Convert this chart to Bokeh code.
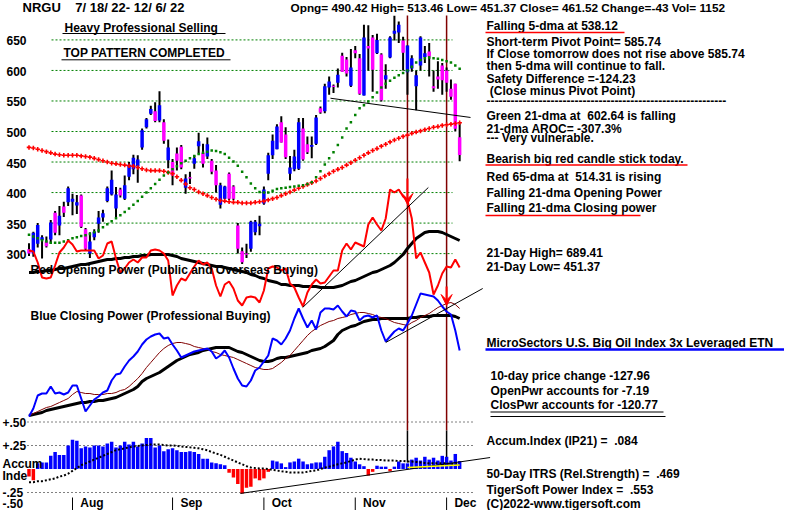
from bokeh.plotting import figure
from bokeh.models import Range1d, Arrow, VeeHead
from bokeh.core.properties import value
from bokeh.embed import file_html
from bokeh.resources import INLINE

# ---------------- data ----------------
opens = [307,300,316,322,320,323,367,346,377,384, 385,379,395,340,300,327,349,359,386,397,
         374,405,390,426,438,443,474,507,529,533, 518,515,453,450,464,475,408,425,447,476,
         465,459,452,436,380,390,431,410,346,304, 300,308,335,345,382,431,461,471,515,495,
         431,438,439,505,479,475,480,538,533,572, 575,580,624,618,575,633,620,559,640,654,
         628,626,585,621,660,662,649,597,603,574, 608,622,631,574,590,608,600,570,578,490.42]
highs = [317,336,350,330,328,355,370,378,385,410, 398,396,397,342,335,340,370,372,410,436,
         409,408,428,450,462,461,505,522,542,548, 566,520,487,455,474,478,430,434,461,498,
         480,490,455,445,416,411,433,412,350,310, 316,354,355,362,410,465,495,512,525,507,
         460,470,522,522,492,492,527,541,578,590, 577,603,629,622,635,640,627,675,674,658,
         660,628,610,656,689.41,680,655,641,625,600, 656,640,645,600,615,612,605,585,578,513.46]
lows = [296,295,310,292,310,316,330,330,360,378, 363,365,342,305,293,322,334,352,384,395,
        360,392,388,420,430,416,470,505,527,515, 515,480,440,412,436,438,398,414,439,464,
        441,455,430,400,374,389,388,388,300,283, 293,303,330,330,380,420,455,471,482,455,
        420,435,437,452,463,456,478,529,530,560, 563,572,598,590,573,620,560,559,600,565,
        627,549,570,620,649,645,600,560,598,535, 600,612,590,565,570,560,565,552,500,451.37]
closes = [300,334,347,327,312,351,334,362,367,407, 390,384,344,308,320,336,359,366,407,421,
          397,395,412,446,457,454,502,520,537,517, 543,485,474,428,452,441,423,423,456,484,
          447,479,434,412,412,410,390,390,308,286, 298,352,352,349,405,461,485,508,482,458,
          441,459,515,454,466,478,523,531,574,582, 573,593,598,595,605,628,562,654,636,601,
          650,551,592,654,665,675,629,641,620,592, 654,628,623,571,585,584,580,557,504.52,461.52]
ma65 = [474,473,471,469,467,465,463,462,461,461, 461,461,460,459,458,456,454,452,450,448,
        447,446,445,444,443,441,439,437,436,436, 436,435,433,431,426,420,414,408,405,401,
        398,395,392,389,387,386,385,384,384,383, 383,383,384,385,386,388,390,392,395,398,
        401,404,407,410,413,416,419,423,427,431, 435,438,441,445,449,453,457,461,465,469,
        472,476,479,483,486,489,492,494,497,499, 501,503,505,507,508,510,511,512,513,514.31]
ma21 = [331,328,325,322,320,318,318,318,320,322, 325,327,329,330,332,335,338,343,348,353,
        358,363,368,374,380,386,393,400,407,414, 421,428,433,438,443,448,452,456,460,463,
        465,467,469,468,466,463,457,451,444,434, 425,415,407,401,400,400,403,406,407,408,
        409,410,411,412,414,417,425,435,446,456, 466,478,490,505,515,527,538,543,549,556,
        564,572,578,583,588,592,596,600,606,613, 617,620,621,620,619,617,615,613,608,602.64]
open_power = [60,59,48,33,32,33,45,58,63,70, 66,59,60,60,60,60,52,55,67,69,
              52,38,42,48,51,48,53,53,60,61, 60,57,50,15,25,32,30,37,44,50,
              46,48,42,25,14,26,29,22,10,5, 13,14,13,8,20,42,44,43,40,42,
              27,23,13,4,18,26,31,27,28,34, 40,40,60,67,61,68,66,64,86,93,
              86,80,92,121,118,121,114,110,92,52, 58,48,38,16,25,37,44,43,51,43]
open_power_ma = [38,38,39,39,40,40,41,42,42,43, 44,45,46,46,47,48,49,50,51,51,
                 52,52,53,53,54,54,55,55,56,56, 56,56,56,55,54,52,51,50,49,48,
                 47,46,45,44,44,43,42,41,40,39, 38,36,35,33,32,30,29,28,26,26,
                 25,25,25,24,24,24,24,23,23,23, 23,24,25,27,29,30,32,34,36,38,
                 39,41,43,45,48,52,56,62,67,72, 75,78,79,79,79,78,76,74,72,70]
close_power = [4,12,25,27,27,34,27,28,26,28, 35,35,22,9,15,21,24,28,30,40,
               46,47,54,60,64,69,76,81,84,86, 87,82,83,76,70,63,65,67,69,70,
               71,72,69,62,65,70,63,52,42,35, 34,40,50,53,59,65,82,80,76,82,
               90,102,112,102,93,100,91,108,112,112, 111,115,109,104,110,109,100,104,105,103,
               105,90,79,84,89,92,90,97,105,116, 127,126,125,124,120,114,109,106,90,70]
close_power_ma_thin = [5,7,9,11,13,14,16,18,20,22, 26,29,28,27,27,26,26,26,27,27,
                       28,30,31,34,38,42,47,53,58,63, 68,72,75,77,78,78,77,76,74,73,
                       72,71,69,68,66,65,64,63,61,59, 57,55,53,52,51,51,52,55,58,62,
                       65,70,75,80,85,89,92,95,97,99, 100,102,103,104,106,107,108,108,107,106,
                       104,103,102,100,98,97,96,95,98,100, 103,105,107,110,113,115,117,118,116,112]
close_power_ma = [5,6,7,8,10,11,12,13,14,15, 16,17,18,18,19,19,20,20,21,22,
                  23,25,27,29,31,34,39,42,44,46, 48,51,54,57,60,62,64,66,67,68,
                  70,71,72,73,73,73,73,71,69,68, 66,64,62,60,59,59,60,62,63,63,
                  64,65,66,67,68,70,71,72,74,77, 80,86,90,92,94,95,97,99,100,101,
                  101,102,102,102,102,102,102,102,103,103, 104,104,104,105,105,105,105,105,104,102]
accum = [-0.08,-0.12,0.06,0.07,0.07,0.14,0.18,0.15,0.15,0.25, 0.31,0.30,0.22,0.24,0.23,0.25,0.25,0.24,0.27,0.29,
         0.23,0.25,0.29,0.26,0.29,0.24,0.27,0.33,0.33,0.23, 0.25,0.19,0.21,0.22,0.20,0.18,0.18,0.19,0.18,0.16,
         0.11,0.11,0.07,0.06,0.05,0.04,-0.04,-0.09,-0.16,-0.26, -0.20,-0.19,-0.10,-0.12,-0.10,-0.03,0.09,0.08,0.06,0.02,
         0.07,0.08,0.11,0.08,0.05,0.06,0.07,0.07,0.13,0.20, 0.24,0.29,0.19,0.17,0.12,0.08,0.05,0.03,-0.07,-0.03,
         0.035,0.025,0.025,-0.025,0.025,0.08,0.06,0.06,0.10,0.12, 0.09,0.13,0.10,0.12,0.09,0.14,0.13,0.09,0.16,0.084]
accum_ma = [-0.14,-0.14,-0.13,-0.13,-0.12,-0.11,-0.10,-0.08,-0.07,-0.05, -0.02,0.01,0.04,0.06,0.08,0.10,0.12,0.14,0.16,0.18,
            0.20,0.21,0.22,0.23,0.24,0.245,0.25,0.255,0.26,0.26, 0.26,0.255,0.25,0.25,0.245,0.24,0.235,0.23,0.225,0.22,
            0.21,0.20,0.18,0.165,0.15,0.13,0.11,0.09,0.07,0.05, 0.03,0.016,0.01,0.005,0.005,0.0,-0.01,-0.016,-0.025,-0.03,
            -0.037,-0.037,-0.037,-0.037,-0.03,-0.02,-0.016,0.0,0.015,0.025, 0.037,0.05,0.06,0.07,0.085,0.10,0.11,0.105,0.10,0.10,
            0.095,0.095,0.09,0.09,0.09,0.085,0.085,0.08,0.08,0.075, 0.07,0.065,0.06,0.06,0.06,0.06,0.06,0.055,0.05,0.05]

price_ticks = [650, 600, 550, 500, 450, 400, 350, 300]
acc_ticks = [0.5, 0.25, -0.25, -0.5]
acc_tick_labels = ["+.50", "+.25", "-.25", "-.50"]
month_days = [10, 33, 54, 75, 96]
month_labels = ["Aug", "Sep", "Oct", "Nov", "Dec"]
signal_days = [87, 96]
neck_days = [69.3, 101.5]
neck_prices = [554.5, 523.0]
op_trend_days = [62.9, 91.8]
op_trend_vals = [3, 123]
cp_trend_days = [82.0, 104.3]
cp_trend_vals = [78, 132]
acc_trend_days = [48.6, 106.0]
acc_trend_vals = [-0.26, 0.122]
acc_hilite_days = [87, 99]
acc_hilite_vals = [0.016, 0.042]
op_arrow = (87, 132, 106)
cp_arrow = (96, 134, 115)

days = list(range(len(closes)))

# ---------------- layout helpers (picture pixel -> data units) ----------------
W, H = 784, 510
TXT_SHIFT = 4.0   # text is drawn a little lower than its nominal baseline
def X(px): return (px - 28.5) / 4.35
def PY(py): return 500 + (131 - py) / 0.6106
def OPY(py): return 310 - py
def CPY(py): return 420 - py
def AY(py): return (468.5 - py) / 94.0

p = figure(width=W, height=H, x_range=Range1d(X(0), X(W)), y_range=Range1d(PY(H), PY(0)),
           output_backend="svg", toolbar_location=None, title=None,
           x_axis_type=None, y_axis_type=None, min_border=0,
           outline_line_color=None, background_fill_color="white", border_fill_color="white")
p.extra_y_ranges = {"op": Range1d(OPY(H), OPY(0)),
                    "cp": Range1d(CPY(H), CPY(0)),
                    "acc": Range1d(AY(H), AY(0))}

FONT = value("Liberation Sans")
NB = "\u00a0"

def txt(s, px, py, size=12, color="black", align="left"):
    p.text(x=[X(px)], y=[PY(py - TXT_SHIFT)], text=[s], text_font=FONT, text_font_size=f"{size}px",
           text_font_style="bold", text_color=color, text_align=align, text_baseline="alphabetic")

def hline(px0, px1, py, color, width=1.0):
    p.segment(x0=[X(px0)], y0=[PY(py)], x1=[X(px1)], y1=[PY(py)], line_color=color, line_width=width)

# ---------------- grid lines ----------------
p.segment(x0=[X(51)] * len(price_ticks), y0=price_ticks, x1=[X(452)] * len(price_ticks), y1=price_ticks,
          line_color="#008000", line_width=1, line_dash="2 2")
p.segment(x0=[X(27)] * len(acc_ticks), y0=acc_ticks, x1=[X(472)] * len(acc_ticks), y1=acc_ticks,
          line_color="black", line_width=1, line_dash="1 3", y_range_name="acc")

# signal verticals
p.segment(x0=signal_days, y0=[AY(430)] * 2, x1=signal_days, y1=[AY(15)] * 2,
          line_color="#800000", line_width=1.5, y_range_name="acc")
p.segment(x0=signal_days, y0=[AY(462)] * 2, x1=signal_days, y1=[AY(430)] * 2,
          line_color="black", line_width=1.5, y_range_name="acc")

# ---------------- price candles ----------------
body_top = [max(o, c) for o, c in zip(opens, closes)]
body_bot = [min(o, c) for o, c in zip(opens, closes)]
body_col = ["#0000ff" if c >= o else "#ff00ff" for o, c in zip(opens, closes)]
p.segment(x0=days, y0=lows, x1=days, y1=highs, line_color="black", line_width=2)
p.vbar(x=days, width=0.8, top=body_top, bottom=body_bot, fill_color=body_col, line_color=None)

p.scatter(days, ma65, marker="cross", size=4.5, line_width=1.6, line_color="#ff0000")
p.scatter(days, ma21, marker="square", size=2.5, fill_color="#008000", line_color="#008000", line_width=0)
p.line(neck_days, neck_prices, line_color="black", line_width=1)

# ---------------- opening power ----------------
p.line(days, open_power_ma, line_color="black", line_width=3, y_range_name="op")
p.line(days, open_power, line_color="#ff0000", line_width=2, y_range_name="op")
p.line(op_trend_days, op_trend_vals, line_color="black", line_width=1, y_range_name="op")
p.add_layout(Arrow(end=VeeHead(size=11, fill_color="#ff0000", line_color="#ff0000"),
                   x_start=op_arrow[0], y_start=op_arrow[1], x_end=op_arrow[0], y_end=op_arrow[2],
                   line_color="#ff0000", line_width=2, y_range_name="op"))

# ---------------- closing power ----------------
p.line(days, close_power_ma, line_color="black", line_width=3, y_range_name="cp")
p.line(days, close_power_ma_thin, line_color="#800000", line_width=1, y_range_name="cp")
p.line(days, close_power, line_color="#0000ff", line_width=2, y_range_name="cp")
p.line(cp_trend_days, cp_trend_vals, line_color="black", line_width=1, y_range_name="cp")
p.add_layout(Arrow(end=VeeHead(size=11, fill_color="#ff0000", line_color="#ff0000"),
                   x_start=cp_arrow[0], y_start=cp_arrow[1], x_end=cp_arrow[0], y_end=cp_arrow[2],
                   line_color="#ff0000", line_width=2, y_range_name="cp"))

# ---------------- accumulation index ----------------
acc_col = ["#0000ff" if v >= 0 else "#ff0000" for v in accum]
p.vbar(x=days, width=0.8, top=accum, bottom=[0] * len(accum), fill_color=acc_col, line_color=None,
       y_range_name="acc")
p.line(days, accum_ma, line_color="black", line_width=2, line_dash="2 2", y_range_name="acc")
p.line(acc_trend_days, acc_trend_vals, line_color="black", line_width=1, y_range_name="acc")
p.line(acc_hilite_days, acc_hilite_vals, line_color="#ffff00", line_width=1.5, y_range_name="acc")

# month ticks and labels (kept inside the 510 px canvas)
p.segment(x0=month_days, y0=[AY(497)] * 5, x1=month_days, y1=[AY(510)] * 5,
          line_color="black", line_width=1, y_range_name="acc")
p.text(x=[d + 1.8 for d in month_days], y=[AY(506 - TXT_SHIFT)] * 5, text=month_labels, text_font=FONT,
       text_font_size="12px", text_font_style="bold", text_baseline="alphabetic", y_range_name="acc")

# price tick labels
p.text(x=[X(6)] * len(price_ticks), y=price_ticks, text=[str(t) for t in price_ticks], text_font=FONT,
       text_font_size="12px", text_font_style="bold", text_baseline="middle", y_offset=1)
# accum tick labels
p.text(x=[X(2)] * 3, y=acc_ticks[:3], text=acc_tick_labels[:3], text_font=FONT,
       text_font_size="12px", text_font_style="bold", text_baseline="middle", y_offset=0,
       y_range_name="acc")
txt(acc_tick_labels[3], 2, 507)

# ---------------- texts ----------------
txt("NRGU" + NB * 3 + " 7/ 18/ 22- 12/ 6/ 22", 22, 11, 13)
txt("Opng= 490.42 High= 513.46 Low= 451.37 Close= 461.52 Change=-43 Vol= 1152", 290, 11, 11.8)
txt("Heavy Professional Selling", 64, 31)
hline(62, 225, 33, "black")
txt("TOP PATTERN COMPLETED", 63, 56)
hline(61, 230, 59.3, "black")

txt("Falling 5-dma at 538.12", 486, 29.3)
hline(485, 624, 32, "#ff0000", 1.5)
txt("Short-term Pivot Point= 585.74", 486, 45)
txt("If Close tomorrow does not rise above 585.74", 486, 57)
txt("then 5-dma will continue to fall.", 486, 69)
txt("Safety Difference =-124.23", 486, 82)
txt(NB + "(Close minus Pivot Point)", 486, 94)
txt("-" * 60, 486, 104)
txt("Green 21-dma at" + NB + " 602.64 is falling", 486, 119.3)
txt("21-dma AROC= -307.3%", 486, 132.7)
txt("--- Very vulnerable.", 486, 141.7)
txt("Bearish big red candle stick today.", 486, 162.3)
hline(485, 687, 164.5, "#ff0000", 1.5)
txt("Red 65-dma at" + NB + " 514.31 is rising", 486, 180)
txt("Falling 21-dma Opening Power", 486, 196.7)
txt("Falling 21-dma Closing power", 486, 211)
hline(485, 640, 215, "#ff0000", 1.5)
txt("21-Day High= 689.41", 486, 256.7)
txt("21-Day Low= 451.37", 486, 270)
txt("MicroSectors U.S. Big Oil Index 3x Leveraged ETN", 486, 346.7)
hline(485, 787, 349, "#0000ff", 2.5)
txt("10-day price change -127.96", 490, 379.3)
txt("OpenPwr accounts for -7.19", 490, 394)
txt("ClosPwr accounts for -120.77", 490, 408.3)
hline(490, 663, 411.5, "black")
hline(490, 665, 416, "black")
txt("Accum.Index (IP21) =" + NB + " .084", 486, 444.3)
txt("50-Day ITRS (Rel.Strength) =" + NB + " .469", 486, 477.3)
txt("TigerSoft Power Index =" + NB + " .553", 486, 493.5)
txt("(C)2022-www.tigersoft.com", 486, 507)

txt("Red Opening Power (Public and Overseas Buying)", 30, 273)
txt("Blue Closing Power (Professional Buying)", 30, 319)
txt("Accum", 2, 467.7)
txt("Inde", 2, 479.3)

open("out.html", "w").write(file_html(p, INLINE))
